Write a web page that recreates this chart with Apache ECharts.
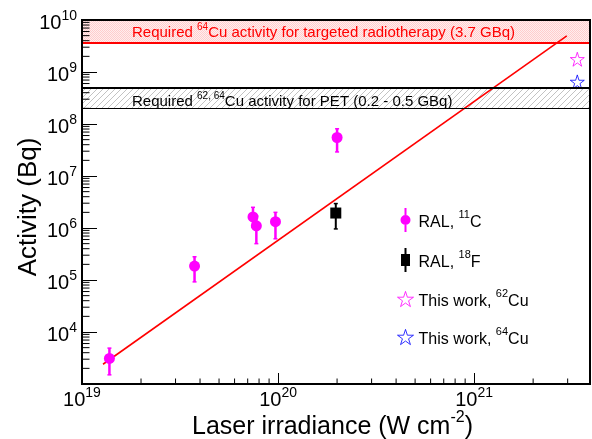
<!DOCTYPE html>
<html>
<head>
<meta charset="utf-8">
<script src="https://cdn.jsdelivr.net/npm/echarts@6/dist/echarts.min.js"></script>
<style>
  html, body { margin: 0; padding: 0; background: #fff; }
  #chart { width: 592px; height: 439px; }
</style>
</head>
<body>
<div id="chart"></div>
<script>
// RAL 11C activation: irradiance (W cm^-2), activity (Bq) with error range
const c11Irradiance = [1.38e19, 3.75e19, 7.45e19, 7.75e19, 9.7e19, 2.0e20];
const c11Activity   = [3.1e3, 1.85e5, 1.63e6, 1.1e6, 1.32e6, 5.5e7];
const c11Low        = [1.5e3, 9.2e4, 1.05e6, 5.0e5, 6.2e5, 2.9e7];
const c11High       = [4.9e3, 2.8e5, 2.5e6, 1.7e6, 2.0e6, 8.1e7];

// RAL 18F activation
const f18Irradiance = [1.97e20];
const f18Activity   = [1.94e6];
const f18Low        = [9.6e5];
const f18High       = [2.95e6];

// This work: copper isotopes
const cu62Irradiance = [3.36e21];
const cu62Activity   = [1.76e9];
const cu64Irradiance = [3.36e21];
const cu64Activity   = [6.45e8];

// Scaling fit, end points
const fitIrradiance = [1.28e19, 2.97e21];
const fitActivity   = [2.4e3, 4.93e9];

// Required activity levels (Bq)
const therapyActivity = 3.7e9;
const petActivityLow  = 2e8;
const petActivityHigh = 5e8;

// Axis ranges and minor tick multipliers
const xRange = [1e19, 3.9e21];
const yRange = [1e3, 1e10];
const minorSteps = [2, 3, 4, 5, 6, 7, 8, 9];

// Legend entries: [text, superscript, text]
const legendC11  = ['RAL, ', '11', 'C'];
const legendF18  = ['RAL, ', '18', 'F'];
const legendCu62 = ['This work, ', '62', 'Cu'];
const legendCu64 = ['This work, ', '64', 'Cu'];

const FONT = '"Liberation Sans", Arial, Helvetica, sans-serif';
const MAGENTA = '#ff00ff';
const BLUE = '#0000ff';
const RED = '#ff0000';

function seriesName(parts) { return parts.join(''); }
function richText(parts) { return '{b|' + parts[0] + '}{s|' + parts[1] + '}{b|' + parts[2] + '}'; }

// Tiled fill patterns for the requirement bands
function makePattern(size, painter) {
  const cv = document.createElement('canvas');
  cv.width = size; cv.height = size;
  const ctx = cv.getContext('2d');
  const img = ctx.createImageData(size, size);
  for (let y = 0; y < size; y++) {
    for (let x = 0; x < size; x++) {
      const c = painter(x, y);
      const i = (y * size + x) * 4;
      img.data[i] = c[0]; img.data[i + 1] = c[1]; img.data[i + 2] = c[2]; img.data[i + 3] = c[3];
    }
  }
  ctx.putImageData(img, 0, 0);
  return { image: cv, repeat: 'repeat' };
}
const pinkDots = makePattern(2, (x, y) => ((x + y) % 2 === 0 ? [255, 205, 205, 255] : [255, 238, 238, 255]));
const grayHatch = makePattern(6, (x, y) => ((x + y) % 6 === 5 ? [195, 195, 195, 255] : [255, 255, 255, 0]));

// Marker with vertical error bar
function errorBarRenderer(marker, barWidth) {
  return function (params, api) {
    const x = api.value(0);
    const p = api.coord([x, api.value(1)]);
    const pl = api.coord([x, api.value(2)]);
    const ph = api.coord([x, api.value(3)]);
    const color = api.visual('color');
    const children = [
      { type: 'line', shape: { x1: p[0], y1: pl[1], x2: p[0], y2: ph[1] }, style: { stroke: color, lineWidth: barWidth } },
      { type: 'line', shape: { x1: p[0] - 2, y1: pl[1], x2: p[0] + 2, y2: pl[1] }, style: { stroke: color, lineWidth: 1.5 } },
      { type: 'line', shape: { x1: p[0] - 2, y1: ph[1], x2: p[0] + 2, y2: ph[1] }, style: { stroke: color, lineWidth: 1.5 } }
    ];
    if (marker === 'circle') {
      children.push({ type: 'circle', shape: { cx: p[0], cy: p[1], r: 5.5 }, style: { fill: color } });
    } else {
      children.push({ type: 'rect', shape: { x: p[0] - 5.5, y: p[1] - 5.5, width: 11, height: 11 }, style: { fill: color } });
    }
    return { type: 'group', children: children };
  };
}

// Minor log ticks drawn inside the frame
const xMinorTicks = [];
for (let e = 19; e <= 21; e++) {
  minorSteps.forEach(k => { const v = k * Math.pow(10, e); if (v < xRange[1]) xMinorTicks.push([v, yRange[0]]); });
}
const yMinorTicks = [];
for (let e = 3; e <= 9; e++) {
  minorSteps.forEach(k => { yMinorTicks.push([xRange[0], k * Math.pow(10, e)]); });
}

const STAR = 'path://M50,0L61.23,34.55L97.55,34.55L68.17,55.9L79.39,90.45L50,69.1L20.61,90.45L31.83,55.9L2.45,34.55L38.77,34.55Z';
const CIRCLE_BAR = 'path://M4,0L6,0L6,7L4,7Z M4,17L6,17L6,24L4,24Z M0,12A5,5 0 1 0 10,12A5,5 0 1 0 0,12Z';
const SQUARE_BAR = 'path://M3.5,0L5.5,0L5.5,6L3.5,6Z M0,6L9,6L9,18L0,18Z M3.5,18L5.5,18L5.5,24L3.5,24Z';

const tickRich = {
  b: { fontFamily: FONT, fontSize: 20, lineHeight: 24, verticalAlign: 'bottom', color: '#000' },
  s: { fontFamily: FONT, fontSize: 14, lineHeight: 14, verticalAlign: 'top', color: '#000' }
};
function powerLabel(value) {
  const e = Math.round(Math.log10(value));
  if (Math.abs(value / Math.pow(10, e) - 1) > 1e-6) return '';
  return '{b|10}{s|' + e + '}';
}
function yPowerLabel(value) {
  if (Math.abs(value / yRange[0] - 1) < 1e-6) return '';
  return powerLabel(value);
}

const bandRich = (color) => ({
  b: { fontFamily: FONT, fontSize: 15, lineHeight: 18, verticalAlign: 'bottom', color: color },
  s: { fontFamily: FONT, fontSize: 10, lineHeight: 10, verticalAlign: 'top', color: color }
});

const legendTexts = {};
[legendC11, legendF18, legendCu62, legendCu64].forEach(p => { legendTexts[seriesName(p)] = richText(p); });

const chart = echarts.init(document.getElementById('chart'), null, { renderer: 'canvas' });
chart.setOption({
  animation: false,
  backgroundColor: '#fff',
  grid: {
    left: 82, right: 2, top: 20, bottom: 55,
    outerBoundsMode: 'none', containLabel: false,
    show: true, borderColor: '#000', borderWidth: 2, backgroundColor: 'transparent', z: 20
  },
  xAxis: {
    type: 'log', logBase: 10, min: xRange[0], max: xRange[1], z: 10,
    axisLine: { show: true, onZero: false, lineStyle: { color: '#000', width: 2 } },
    axisTick: { show: true, inside: true, length: 11, lineStyle: { color: '#000', width: 1 } },
    splitLine: { show: false },
    axisLabel: { formatter: powerLabel, margin: 2, rich: tickRich, hideOverlap: false },
    name: '{b|Laser irradiance (W cm}{s|-2}{b|)}',
    nameLocation: 'middle', nameGap: 26, nameMoveOverlap: false,
    nameTextStyle: {
      padding: [0, 7, 0, 0],
      rich: {
        b: { fontFamily: FONT, fontSize: 25, lineHeight: 30, verticalAlign: 'bottom', color: '#000' },
        s: { fontFamily: FONT, fontSize: 16, lineHeight: 16, verticalAlign: 'top', color: '#000' }
      }
    }
  },
  yAxis: {
    type: 'log', logBase: 10, min: yRange[0], max: yRange[1], z: 10,
    axisLine: { show: true, onZero: false, lineStyle: { color: '#000', width: 2 } },
    axisTick: { show: true, inside: true, length: 15, lineStyle: { color: '#000', width: 1 } },
    splitLine: { show: false },
    axisLabel: { formatter: yPowerLabel, margin: 5, rich: tickRich, padding: [3, 0, 0, 0], hideOverlap: false },
    name: '{b|Activity (Bq)}',
    nameLocation: 'middle', nameGap: 38, nameMoveOverlap: false,
    nameTextStyle: {
      padding: [0, 10, 0, 0],
      rich: { b: { fontFamily: FONT, fontSize: 26, lineHeight: 30, verticalAlign: 'middle', color: '#000' } }
    }
  },
  legend: {
    orient: 'vertical', left: 392, top: 203,
    itemWidth: 16, itemHeight: 24, itemGap: 16,
    selectedMode: false,
    data: [
      { name: seriesName(legendC11), icon: CIRCLE_BAR, itemStyle: { color: MAGENTA } },
      { name: seriesName(legendF18), icon: SQUARE_BAR, itemStyle: { color: '#000' } },
      { name: seriesName(legendCu62), icon: STAR, itemStyle: { color: 'rgba(0,0,0,0)', borderColor: MAGENTA, borderWidth: 1 } },
      { name: seriesName(legendCu64), icon: STAR, itemStyle: { color: 'rgba(0,0,0,0)', borderColor: BLUE, borderWidth: 1 } }
    ],
    formatter: name => legendTexts[name],
    textStyle: {
      fontFamily: FONT, fontSize: 16, color: '#000',
      rich: {
        b: { fontFamily: FONT, fontSize: 16, lineHeight: 22, verticalAlign: 'bottom', color: '#000' },
        s: { fontFamily: FONT, fontSize: 11, lineHeight: 11, verticalAlign: 'top', color: '#000' }
      }
    }
  },
  series: [
    {
      name: 'fit', type: 'line', z: 3,
      data: fitIrradiance.map((x, i) => [x, fitActivity[i]]),
      symbol: 'none', silent: true,
      lineStyle: { color: RED, width: 1.6 },
      markArea: {
        silent: true,
        data: [
          [
            {
              yAxis: therapyActivity,
              itemStyle: { color: pinkDots, opacity: 1 },
              label: {
                show: true, position: [50, '50%'], align: 'left', verticalAlign: 'middle',
                formatter: '{b|Required }{s|64}{b|Cu activity for targeted radiotherapy (3.7 GBq)}',
                rich: bandRich(RED)
              }
            },
            { yAxis: yRange[1] }
          ],
          [
            {
              yAxis: petActivityLow,
              itemStyle: { color: grayHatch, opacity: 1 },
              label: {
                show: true, position: [50, '50%'], align: 'left', verticalAlign: 'middle', offset: [0, 2],
                formatter: '{b|Required }{s|62, 64}{b|Cu activity for PET (0.2 - 0.5 GBq)}',
                rich: bandRich('#000')
              }
            },
            { yAxis: petActivityHigh }
          ]
        ]
      },
      markLine: {
        silent: true, symbol: ['none', 'none'],
        label: { show: false },
        lineStyle: { type: 'solid' },
        data: [
          { yAxis: therapyActivity, lineStyle: { color: RED, width: 2, type: 'solid' } },
          { yAxis: petActivityHigh, lineStyle: { color: '#000', width: 2, type: 'solid' } },
          { yAxis: petActivityLow, lineStyle: { color: '#000', width: 1, type: 'solid' } }
        ]
      }
    },
    {
      name: seriesName(legendC11), type: 'custom', z: 4, clip: false,
      itemStyle: { color: MAGENTA },
      encode: { x: 0, y: 1 },
      data: c11Irradiance.map((x, i) => [x, c11Activity[i], c11Low[i], c11High[i]]),
      renderItem: errorBarRenderer('circle', 2.5)
    },
    {
      name: seriesName(legendF18), type: 'custom', z: 4, clip: false,
      itemStyle: { color: '#000' },
      encode: { x: 0, y: 1 },
      data: f18Irradiance.map((x, i) => [x, f18Activity[i], f18Low[i], f18High[i]]),
      renderItem: errorBarRenderer('square', 2)
    },
    {
      name: seriesName(legendCu62), type: 'scatter', z: 4,
      symbol: STAR, symbolSize: 14,
      itemStyle: { color: 'rgba(0,0,0,0)', borderColor: MAGENTA, borderWidth: 1 },
      data: cu62Irradiance.map((x, i) => [x, cu62Activity[i]])
    },
    {
      name: seriesName(legendCu64), type: 'scatter', z: 4,
      symbol: STAR, symbolSize: 14,
      itemStyle: { color: 'rgba(0,0,0,0)', borderColor: BLUE, borderWidth: 1 },
      data: cu64Irradiance.map((x, i) => [x, cu64Activity[i]])
    },
    {
      name: 'xMinor', type: 'custom', z: 10, silent: true, clip: false,
      encode: { x: 0, y: 1 },
      data: xMinorTicks,
      renderItem: (params, api) => {
        const p = api.coord([api.value(0), api.value(1)]);
        return { type: 'line', shape: { x1: p[0], y1: p[1], x2: p[0], y2: p[1] - 5.5 }, style: { stroke: '#000', lineWidth: 1 } };
      }
    },
    {
      name: 'yMinor', type: 'custom', z: 10, silent: true, clip: false,
      encode: { x: 0, y: 1 },
      data: yMinorTicks,
      renderItem: (params, api) => {
        const p = api.coord([api.value(0), api.value(1)]);
        return { type: 'line', shape: { x1: p[0], y1: p[1], x2: p[0] + 7.5, y2: p[1] }, style: { stroke: '#000', lineWidth: 1 } };
      }
    }
  ]
});
</script>
</body>
</html>
